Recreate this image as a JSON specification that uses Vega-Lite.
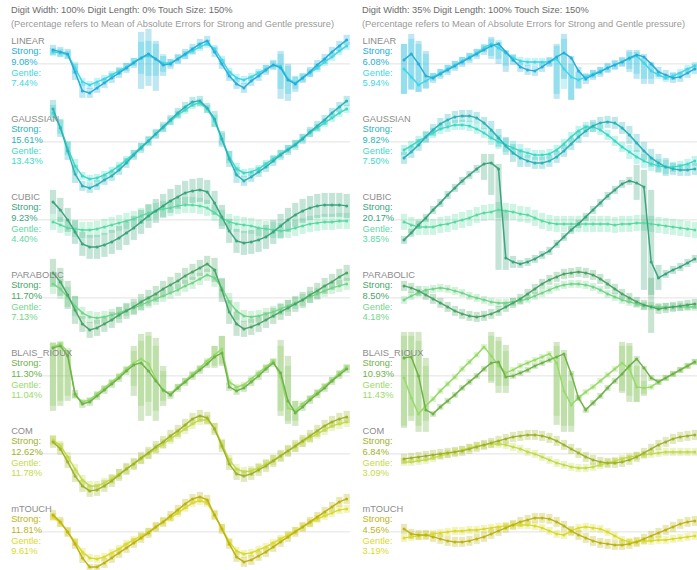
{
"$schema":"https://vega.github.io/schema/vega-lite/v6.json",
"padding":{"top":6,"left":0,"right":0,"bottom":0},
"background":"#ffffff",
"spacing":0,
"config":{"view":{"stroke":null},"font":"Liberation Sans"},
"datasets":{
"L":[
{"m":"LINEAR","i":0,"S":14,"s1":9,"s2":19,"G":12,"g1":8,"g2":16,"sp":"9.08%","gp":"7.44%"},
{"m":"LINEAR","i":1,"S":12,"s1":7,"s2":17,"G":11,"g1":7,"g2":15},
{"m":"LINEAR","i":2,"S":10,"s1":5,"s2":15,"G":9,"g1":5,"g2":13},
{"m":"LINEAR","i":3,"S":-8,"s1":-16,"s2":0,"G":-4,"g1":-10,"g2":2},
{"m":"LINEAR","i":4,"S":-27,"s1":-34,"s2":-20,"G":-18,"g1":-22,"g2":-14},
{"m":"LINEAR","i":5,"S":-29,"s1":-34,"s2":-24,"G":-21,"g1":-25,"g2":-17},
{"m":"LINEAR","i":6,"S":-24,"s1":-29,"s2":-19,"G":-18,"g1":-22,"g2":-14},
{"m":"LINEAR","i":7,"S":-19,"s1":-24,"s2":-14,"G":-15,"g1":-19,"g2":-11},
{"m":"LINEAR","i":8,"S":-14,"s1":-19,"s2":-9,"G":-11,"g1":-15,"g2":-7},
{"m":"LINEAR","i":9,"S":-9,"s1":-14,"s2":-4,"G":-7,"g1":-11,"g2":-3},
{"m":"LINEAR","i":10,"S":-4,"s1":-9,"s2":1,"G":-3,"g1":-7,"g2":1},
{"m":"LINEAR","i":11,"S":1,"s1":-4,"s2":6,"G":2,"g1":-2,"g2":6},
{"m":"LINEAR","i":12,"S":6,"s1":-25,"s2":32,"G":6,"g1":-10,"g2":22},
{"m":"LINEAR","i":13,"S":10,"s1":-22,"s2":35,"G":8,"g1":-12,"g2":23},
{"m":"LINEAR","i":14,"S":5,"s1":-27,"s2":23,"G":5,"g1":-12,"g2":20},
{"m":"LINEAR","i":15,"S":-1,"s1":-12,"s2":8,"G":1,"g1":-8,"g2":10},
{"m":"LINEAR","i":16,"S":0,"s1":-5,"s2":5,"G":1,"g1":-3,"g2":5},
{"m":"LINEAR","i":17,"S":5,"s1":0,"s2":10,"G":5,"g1":1,"g2":9},
{"m":"LINEAR","i":18,"S":10,"s1":5,"s2":15,"G":9,"g1":5,"g2":13},
{"m":"LINEAR","i":19,"S":15,"s1":10,"s2":20,"G":13,"g1":9,"g2":17},
{"m":"LINEAR","i":20,"S":20,"s1":15,"s2":25,"G":17,"g1":13,"g2":21},
{"m":"LINEAR","i":21,"S":23,"s1":18,"s2":28,"G":20,"g1":16,"g2":24},
{"m":"LINEAR","i":22,"S":12,"s1":7,"s2":17,"G":15,"g1":11,"g2":19},
{"m":"LINEAR","i":23,"S":0,"s1":-5,"s2":5,"G":4,"g1":0,"g2":8},
{"m":"LINEAR","i":24,"S":-12,"s1":-17,"s2":-7,"G":-8,"g1":-12,"g2":-4},
{"m":"LINEAR","i":25,"S":-20,"s1":-25,"s2":-15,"G":-14,"g1":-18,"g2":-10},
{"m":"LINEAR","i":26,"S":-24,"s1":-29,"s2":-19,"G":-16,"g1":-20,"g2":-12},
{"m":"LINEAR","i":27,"S":-17,"s1":-22,"s2":-12,"G":-13,"g1":-17,"g2":-9},
{"m":"LINEAR","i":28,"S":-12,"s1":-17,"s2":-7,"G":-9,"g1":-13,"g2":-5},
{"m":"LINEAR","i":29,"S":-6,"s1":-11,"s2":-1,"G":-5,"g1":-9,"g2":-1},
{"m":"LINEAR","i":30,"S":-1,"s1":-6,"s2":4,"G":-1,"g1":-5,"g2":3},
{"m":"LINEAR","i":31,"S":-4,"s1":-35,"s2":13,"G":-2,"g1":-25,"g2":10},
{"m":"LINEAR","i":32,"S":-16,"s1":-37,"s2":0,"G":-15,"g1":-30,"g2":-2},
{"m":"LINEAR","i":33,"S":-20,"s1":-28,"s2":-12,"G":-19,"g1":-25,"g2":-13},
{"m":"LINEAR","i":34,"S":-14,"s1":-19,"s2":-9,"G":-14,"g1":-18,"g2":-10},
{"m":"LINEAR","i":35,"S":-8,"s1":-13,"s2":-3,"G":-9,"g1":-13,"g2":-5},
{"m":"LINEAR","i":36,"S":-1,"s1":-6,"s2":4,"G":-4,"g1":-8,"g2":0},
{"m":"LINEAR","i":37,"S":5,"s1":0,"s2":10,"G":2,"g1":-2,"g2":6},
{"m":"LINEAR","i":38,"S":12,"s1":7,"s2":17,"G":7,"g1":3,"g2":11},
{"m":"LINEAR","i":39,"S":18,"s1":13,"s2":23,"G":13,"g1":9,"g2":17},
{"m":"LINEAR","i":40,"S":24,"s1":19,"s2":29,"G":18,"g1":14,"g2":22},
{"m":"GAUSSIAN","i":0,"S":33,"s1":24,"s2":42,"G":29,"g1":21,"g2":37,"sp":"15.61%","gp":"13.43%"},
{"m":"GAUSSIAN","i":1,"S":14,"s1":5,"s2":23,"G":15,"g1":8,"g2":22},
{"m":"GAUSSIAN","i":2,"S":-9,"s1":-18,"s2":0,"G":-6,"g1":-13,"g2":1},
{"m":"GAUSSIAN","i":3,"S":-32,"s1":-41,"s2":-23,"G":-24,"g1":-31,"g2":-17},
{"m":"GAUSSIAN","i":4,"S":-44,"s1":-49,"s2":-39,"G":-34,"g1":-38,"g2":-30},
{"m":"GAUSSIAN","i":5,"S":-46,"s1":-51,"s2":-41,"G":-37,"g1":-41,"g2":-33},
{"m":"GAUSSIAN","i":6,"S":-43,"s1":-48,"s2":-38,"G":-36,"g1":-40,"g2":-32},
{"m":"GAUSSIAN","i":7,"S":-38,"s1":-43,"s2":-33,"G":-33,"g1":-37,"g2":-29},
{"m":"GAUSSIAN","i":8,"S":-34,"s1":-39,"s2":-29,"G":-29,"g1":-33,"g2":-25},
{"m":"GAUSSIAN","i":9,"S":-28,"s1":-33,"s2":-23,"G":-24,"g1":-28,"g2":-20},
{"m":"GAUSSIAN","i":10,"S":-21,"s1":-26,"s2":-16,"G":-18,"g1":-22,"g2":-14},
{"m":"GAUSSIAN","i":11,"S":-13,"s1":-18,"s2":-8,"G":-12,"g1":-16,"g2":-8},
{"m":"GAUSSIAN","i":12,"S":-6,"s1":-11,"s2":-1,"G":-5,"g1":-9,"g2":-1},
{"m":"GAUSSIAN","i":13,"S":1,"s1":-4,"s2":6,"G":1,"g1":-3,"g2":5},
{"m":"GAUSSIAN","i":14,"S":8,"s1":3,"s2":13,"G":8,"g1":4,"g2":12},
{"m":"GAUSSIAN","i":15,"S":15,"s1":10,"s2":20,"G":14,"g1":10,"g2":18},
{"m":"GAUSSIAN","i":16,"S":22,"s1":17,"s2":27,"G":21,"g1":17,"g2":25},
{"m":"GAUSSIAN","i":17,"S":29,"s1":24,"s2":34,"G":27,"g1":23,"g2":31},
{"m":"GAUSSIAN","i":18,"S":35,"s1":30,"s2":40,"G":32,"g1":28,"g2":36},
{"m":"GAUSSIAN","i":19,"S":40,"s1":35,"s2":45,"G":37,"g1":33,"g2":41},
{"m":"GAUSSIAN","i":20,"S":41,"s1":36,"s2":46,"G":39,"g1":35,"g2":43},
{"m":"GAUSSIAN","i":21,"S":34,"s1":29,"s2":39,"G":33,"g1":29,"g2":37},
{"m":"GAUSSIAN","i":22,"S":23,"s1":15,"s2":31,"G":21,"g1":15,"g2":27},
{"m":"GAUSSIAN","i":23,"S":3,"s1":-5,"s2":11,"G":3,"g1":-3,"g2":9},
{"m":"GAUSSIAN","i":24,"S":-17,"s1":-25,"s2":-9,"G":-15,"g1":-21,"g2":-9},
{"m":"GAUSSIAN","i":25,"S":-33,"s1":-41,"s2":-25,"G":-27,"g1":-33,"g2":-21},
{"m":"GAUSSIAN","i":26,"S":-39,"s1":-44,"s2":-34,"G":-31,"g1":-35,"g2":-27},
{"m":"GAUSSIAN","i":27,"S":-35,"s1":-40,"s2":-30,"G":-30,"g1":-34,"g2":-26},
{"m":"GAUSSIAN","i":28,"S":-30,"s1":-35,"s2":-25,"G":-27,"g1":-31,"g2":-23},
{"m":"GAUSSIAN","i":29,"S":-25,"s1":-30,"s2":-20,"G":-22,"g1":-26,"g2":-18},
{"m":"GAUSSIAN","i":30,"S":-19,"s1":-24,"s2":-14,"G":-17,"g1":-21,"g2":-13},
{"m":"GAUSSIAN","i":31,"S":-13,"s1":-18,"s2":-8,"G":-12,"g1":-16,"g2":-8},
{"m":"GAUSSIAN","i":32,"S":-8,"s1":-13,"s2":-3,"G":-7,"g1":-11,"g2":-3},
{"m":"GAUSSIAN","i":33,"S":-3,"s1":-8,"s2":2,"G":-2,"g1":-6,"g2":2},
{"m":"GAUSSIAN","i":34,"S":3,"s1":-2,"s2":8,"G":4,"g1":0,"g2":8},
{"m":"GAUSSIAN","i":35,"S":10,"s1":5,"s2":15,"G":9,"g1":5,"g2":13},
{"m":"GAUSSIAN","i":36,"S":16,"s1":11,"s2":21,"G":14,"g1":10,"g2":18},
{"m":"GAUSSIAN","i":37,"S":22,"s1":17,"s2":27,"G":19,"g1":15,"g2":23},
{"m":"GAUSSIAN","i":38,"S":29,"s1":24,"s2":34,"G":24,"g1":20,"g2":28},
{"m":"GAUSSIAN","i":39,"S":35,"s1":30,"s2":40,"G":29,"g1":25,"g2":33},
{"m":"GAUSSIAN","i":40,"S":41,"s1":36,"s2":46,"G":33,"g1":29,"g2":37},
{"m":"CUBIC","i":0,"S":18,"s1":6,"s2":30,"G":-2,"g1":-10,"g2":6,"sp":"9.23%","gp":"4.40%"},
{"m":"CUBIC","i":1,"S":10,"s1":-2,"s2":22,"G":-5,"g1":-13,"g2":3},
{"m":"CUBIC","i":2,"S":0,"s1":-12,"s2":12,"G":-8,"g1":-16,"g2":0},
{"m":"CUBIC","i":3,"S":-12,"s1":-24,"s2":0,"G":-9,"g1":-17,"g2":-1},
{"m":"CUBIC","i":4,"S":-24,"s1":-36,"s2":-12,"G":-10,"g1":-18,"g2":-2},
{"m":"CUBIC","i":5,"S":-27,"s1":-39,"s2":-15,"G":-10,"g1":-18,"g2":-2},
{"m":"CUBIC","i":6,"S":-27,"s1":-39,"s2":-15,"G":-9,"g1":-17,"g2":-1},
{"m":"CUBIC","i":7,"S":-25,"s1":-37,"s2":-13,"G":-7,"g1":-15,"g2":1},
{"m":"CUBIC","i":8,"S":-22,"s1":-34,"s2":-10,"G":-5,"g1":-13,"g2":3},
{"m":"CUBIC","i":9,"S":-18,"s1":-30,"s2":-6,"G":-3,"g1":-11,"g2":5},
{"m":"CUBIC","i":10,"S":-13,"s1":-25,"s2":-1,"G":-1,"g1":-9,"g2":7},
{"m":"CUBIC","i":11,"S":-8,"s1":-20,"s2":4,"G":1,"g1":-7,"g2":9},
{"m":"CUBIC","i":12,"S":-2,"s1":-14,"s2":10,"G":4,"g1":-4,"g2":12},
{"m":"CUBIC","i":13,"S":4,"s1":-8,"s2":16,"G":7,"g1":-1,"g2":15},
{"m":"CUBIC","i":14,"S":9,"s1":-3,"s2":21,"G":9,"g1":1,"g2":17},
{"m":"CUBIC","i":15,"S":14,"s1":2,"s2":26,"G":11,"g1":3,"g2":19},
{"m":"CUBIC","i":16,"S":19,"s1":7,"s2":31,"G":12,"g1":4,"g2":20},
{"m":"CUBIC","i":17,"S":23,"s1":11,"s2":35,"G":14,"g1":6,"g2":22},
{"m":"CUBIC","i":18,"S":27,"s1":15,"s2":39,"G":15,"g1":7,"g2":23},
{"m":"CUBIC","i":19,"S":29,"s1":17,"s2":41,"G":15,"g1":7,"g2":23},
{"m":"CUBIC","i":20,"S":30,"s1":18,"s2":42,"G":14,"g1":6,"g2":22},
{"m":"CUBIC","i":21,"S":28,"s1":16,"s2":40,"G":12,"g1":4,"g2":20},
{"m":"CUBIC","i":22,"S":17,"s1":5,"s2":29,"G":7,"g1":-1,"g2":15},
{"m":"CUBIC","i":23,"S":3,"s1":-9,"s2":15,"G":2,"g1":-6,"g2":10},
{"m":"CUBIC","i":24,"S":-11,"s1":-23,"s2":1,"G":-2,"g1":-10,"g2":6},
{"m":"CUBIC","i":25,"S":-21,"s1":-33,"s2":-9,"G":-4,"g1":-12,"g2":4},
{"m":"CUBIC","i":26,"S":-23,"s1":-35,"s2":-11,"G":-5,"g1":-13,"g2":3},
{"m":"CUBIC","i":27,"S":-22,"s1":-34,"s2":-10,"G":-6,"g1":-14,"g2":2},
{"m":"CUBIC","i":28,"S":-20,"s1":-32,"s2":-8,"G":-8,"g1":-16,"g2":0},
{"m":"CUBIC","i":29,"S":-17,"s1":-29,"s2":-5,"G":-9,"g1":-17,"g2":-1},
{"m":"CUBIC","i":30,"S":-12,"s1":-24,"s2":0,"G":-10,"g1":-18,"g2":-2},
{"m":"CUBIC","i":31,"S":-6,"s1":-18,"s2":6,"G":-11,"g1":-19,"g2":-3},
{"m":"CUBIC","i":32,"S":0,"s1":-12,"s2":12,"G":-10,"g1":-18,"g2":-2},
{"m":"CUBIC","i":33,"S":5,"s1":-7,"s2":17,"G":-8,"g1":-16,"g2":0},
{"m":"CUBIC","i":34,"S":9,"s1":-3,"s2":21,"G":-6,"g1":-14,"g2":2},
{"m":"CUBIC","i":35,"S":12,"s1":0,"s2":24,"G":-4,"g1":-12,"g2":4},
{"m":"CUBIC","i":36,"S":14,"s1":2,"s2":26,"G":-3,"g1":-11,"g2":5},
{"m":"CUBIC","i":37,"S":15,"s1":3,"s2":27,"G":-2,"g1":-10,"g2":6},
{"m":"CUBIC","i":38,"S":15,"s1":3,"s2":27,"G":-2,"g1":-10,"g2":6},
{"m":"CUBIC","i":39,"S":15,"s1":3,"s2":27,"G":-1,"g1":-9,"g2":7},
{"m":"CUBIC","i":40,"S":14,"s1":2,"s2":26,"G":-1,"g1":-9,"g2":7},
{"m":"PARABOLIC","i":0,"S":25,"s1":11,"s2":39,"G":14,"g1":4,"g2":24,"sp":"11.70%","gp":"7.13%"},
{"m":"PARABOLIC","i":1,"S":16,"s1":2,"s2":30,"G":9,"g1":-1,"g2":19},
{"m":"PARABOLIC","i":2,"S":3,"s1":-11,"s2":17,"G":1,"g1":-9,"g2":11},
{"m":"PARABOLIC","i":3,"S":-12,"s1":-26,"s2":2,"G":-8,"g1":-18,"g2":2},
{"m":"PARABOLIC","i":4,"S":-26,"s1":-34,"s2":-18,"G":-15,"g1":-21,"g2":-9},
{"m":"PARABOLIC","i":5,"S":-32,"s1":-40,"s2":-24,"G":-19,"g1":-25,"g2":-13},
{"m":"PARABOLIC","i":6,"S":-30,"s1":-38,"s2":-22,"G":-20,"g1":-26,"g2":-14},
{"m":"PARABOLIC","i":7,"S":-26,"s1":-34,"s2":-18,"G":-19,"g1":-25,"g2":-13},
{"m":"PARABOLIC","i":8,"S":-22,"s1":-30,"s2":-14,"G":-17,"g1":-23,"g2":-11},
{"m":"PARABOLIC","i":9,"S":-17,"s1":-25,"s2":-9,"G":-15,"g1":-21,"g2":-9},
{"m":"PARABOLIC","i":10,"S":-13,"s1":-21,"s2":-5,"G":-12,"g1":-18,"g2":-6},
{"m":"PARABOLIC","i":11,"S":-9,"s1":-17,"s2":-1,"G":-10,"g1":-16,"g2":-4},
{"m":"PARABOLIC","i":12,"S":-4,"s1":-12,"s2":4,"G":-7,"g1":-13,"g2":-1},
{"m":"PARABOLIC","i":13,"S":0,"s1":-8,"s2":8,"G":-4,"g1":-10,"g2":2},
{"m":"PARABOLIC","i":14,"S":4,"s1":-4,"s2":12,"G":-1,"g1":-7,"g2":5},
{"m":"PARABOLIC","i":15,"S":9,"s1":1,"s2":17,"G":2,"g1":-4,"g2":8},
{"m":"PARABOLIC","i":16,"S":13,"s1":5,"s2":21,"G":5,"g1":-1,"g2":11},
{"m":"PARABOLIC","i":17,"S":17,"s1":9,"s2":25,"G":8,"g1":2,"g2":14},
{"m":"PARABOLIC","i":18,"S":22,"s1":14,"s2":30,"G":12,"g1":6,"g2":18},
{"m":"PARABOLIC","i":19,"S":26,"s1":18,"s2":34,"G":15,"g1":9,"g2":21},
{"m":"PARABOLIC","i":20,"S":30,"s1":22,"s2":38,"G":19,"g1":13,"g2":25},
{"m":"PARABOLIC","i":21,"S":34,"s1":26,"s2":42,"G":23,"g1":17,"g2":29},
{"m":"PARABOLIC","i":22,"S":28,"s1":16,"s2":40,"G":20,"g1":11,"g2":29},
{"m":"PARABOLIC","i":23,"S":8,"s1":-4,"s2":20,"G":10,"g1":1,"g2":19},
{"m":"PARABOLIC","i":24,"S":-14,"s1":-26,"s2":-2,"G":-4,"g1":-13,"g2":5},
{"m":"PARABOLIC","i":25,"S":-26,"s1":-38,"s2":-14,"G":-13,"g1":-22,"g2":-4},
{"m":"PARABOLIC","i":26,"S":-31,"s1":-39,"s2":-23,"G":-18,"g1":-24,"g2":-12},
{"m":"PARABOLIC","i":27,"S":-29,"s1":-37,"s2":-21,"G":-19,"g1":-25,"g2":-13},
{"m":"PARABOLIC","i":28,"S":-26,"s1":-34,"s2":-18,"G":-18,"g1":-24,"g2":-12},
{"m":"PARABOLIC","i":29,"S":-22,"s1":-30,"s2":-14,"G":-16,"g1":-22,"g2":-10},
{"m":"PARABOLIC","i":30,"S":-18,"s1":-26,"s2":-10,"G":-14,"g1":-20,"g2":-8},
{"m":"PARABOLIC","i":31,"S":-14,"s1":-22,"s2":-6,"G":-11,"g1":-17,"g2":-5},
{"m":"PARABOLIC","i":32,"S":-10,"s1":-18,"s2":-2,"G":-8,"g1":-14,"g2":-2},
{"m":"PARABOLIC","i":33,"S":-6,"s1":-14,"s2":2,"G":-5,"g1":-11,"g2":1},
{"m":"PARABOLIC","i":34,"S":-2,"s1":-10,"s2":6,"G":-2,"g1":-8,"g2":4},
{"m":"PARABOLIC","i":35,"S":3,"s1":-5,"s2":11,"G":1,"g1":-5,"g2":7},
{"m":"PARABOLIC","i":36,"S":7,"s1":-1,"s2":15,"G":4,"g1":-2,"g2":10},
{"m":"PARABOLIC","i":37,"S":12,"s1":4,"s2":20,"G":7,"g1":1,"g2":13},
{"m":"PARABOLIC","i":38,"S":16,"s1":8,"s2":24,"G":10,"g1":4,"g2":16},
{"m":"PARABOLIC","i":39,"S":21,"s1":13,"s2":29,"G":12,"g1":6,"g2":18},
{"m":"PARABOLIC","i":40,"S":25,"s1":17,"s2":33,"G":14,"g1":8,"g2":20},
{"m":"BLAIS_RIOUX","i":0,"S":28,"s1":-35,"s2":33,"G":29,"g1":-30,"g2":34,"sp":"11.30%","gp":"11.04%"},
{"m":"BLAIS_RIOUX","i":1,"S":30,"s1":-30,"s2":34,"G":32,"g1":-25,"g2":35},
{"m":"BLAIS_RIOUX","i":2,"S":20,"s1":-25,"s2":26,"G":24,"g1":-20,"g2":28},
{"m":"BLAIS_RIOUX","i":3,"S":-18,"s1":-22,"s2":-14,"G":-20,"g1":-23,"g2":-17},
{"m":"BLAIS_RIOUX","i":4,"S":-28,"s1":-32,"s2":-24,"G":-26,"g1":-29,"g2":-23},
{"m":"BLAIS_RIOUX","i":5,"S":-26,"s1":-30,"s2":-22,"G":-24,"g1":-27,"g2":-21},
{"m":"BLAIS_RIOUX","i":6,"S":-20,"s1":-24,"s2":-16,"G":-18,"g1":-21,"g2":-15},
{"m":"BLAIS_RIOUX","i":7,"S":-14,"s1":-18,"s2":-10,"G":-12,"g1":-15,"g2":-9},
{"m":"BLAIS_RIOUX","i":8,"S":-8,"s1":-12,"s2":-4,"G":-6,"g1":-9,"g2":-3},
{"m":"BLAIS_RIOUX","i":9,"S":-2,"s1":-6,"s2":2,"G":0,"g1":-3,"g2":3},
{"m":"BLAIS_RIOUX","i":10,"S":5,"s1":1,"s2":9,"G":7,"g1":4,"g2":10},
{"m":"BLAIS_RIOUX","i":11,"S":11,"s1":-20,"s2":30,"G":13,"g1":-10,"g2":25},
{"m":"BLAIS_RIOUX","i":12,"S":13,"s1":-45,"s2":42,"G":17,"g1":-30,"g2":35},
{"m":"BLAIS_RIOUX","i":13,"S":5,"s1":-40,"s2":44,"G":12,"g1":-26,"g2":40},
{"m":"BLAIS_RIOUX","i":14,"S":-5,"s1":-45,"s2":38,"G":-3,"g1":-35,"g2":30},
{"m":"BLAIS_RIOUX","i":15,"S":-14,"s1":-30,"s2":10,"G":-15,"g1":-25,"g2":5},
{"m":"BLAIS_RIOUX","i":16,"S":-19,"s1":-23,"s2":-15,"G":-18,"g1":-21,"g2":-15},
{"m":"BLAIS_RIOUX","i":17,"S":-12,"s1":-16,"s2":-8,"G":-11,"g1":-14,"g2":-8},
{"m":"BLAIS_RIOUX","i":18,"S":-6,"s1":-10,"s2":-2,"G":-5,"g1":-8,"g2":-2},
{"m":"BLAIS_RIOUX","i":19,"S":0,"s1":-4,"s2":4,"G":2,"g1":-1,"g2":5},
{"m":"BLAIS_RIOUX","i":20,"S":6,"s1":2,"s2":10,"G":8,"g1":5,"g2":11},
{"m":"BLAIS_RIOUX","i":21,"S":12,"s1":8,"s2":16,"G":15,"g1":12,"g2":18},
{"m":"BLAIS_RIOUX","i":22,"S":19,"s1":8,"s2":30,"G":21,"g1":10,"g2":30},
{"m":"BLAIS_RIOUX","i":23,"S":23,"s1":10,"s2":40,"G":27,"g1":12,"g2":40},
{"m":"BLAIS_RIOUX","i":24,"S":-11,"s1":-15,"s2":-7,"G":-6,"g1":-9,"g2":-3},
{"m":"BLAIS_RIOUX","i":25,"S":-15,"s1":-19,"s2":-11,"G":-11,"g1":-14,"g2":-8},
{"m":"BLAIS_RIOUX","i":26,"S":-12,"s1":-16,"s2":-8,"G":-9,"g1":-12,"g2":-6},
{"m":"BLAIS_RIOUX","i":27,"S":-6,"s1":-10,"s2":-2,"G":-3,"g1":-6,"g2":0},
{"m":"BLAIS_RIOUX","i":28,"S":0,"s1":-4,"s2":4,"G":3,"g1":0,"g2":6},
{"m":"BLAIS_RIOUX","i":29,"S":7,"s1":3,"s2":11,"G":9,"g1":6,"g2":12},
{"m":"BLAIS_RIOUX","i":30,"S":13,"s1":9,"s2":17,"G":15,"g1":12,"g2":18},
{"m":"BLAIS_RIOUX","i":31,"S":3,"s1":-40,"s2":36,"G":-1,"g1":-35,"g2":30},
{"m":"BLAIS_RIOUX","i":32,"S":-25,"s1":-48,"s2":20,"G":-32,"g1":-45,"g2":10},
{"m":"BLAIS_RIOUX","i":33,"S":-37,"s1":-50,"s2":-25,"G":-35,"g1":-45,"g2":-25},
{"m":"BLAIS_RIOUX","i":34,"S":-31,"s1":-35,"s2":-27,"G":-28,"g1":-31,"g2":-25},
{"m":"BLAIS_RIOUX","i":35,"S":-24,"s1":-28,"s2":-20,"G":-22,"g1":-25,"g2":-19},
{"m":"BLAIS_RIOUX","i":36,"S":-18,"s1":-22,"s2":-14,"G":-16,"g1":-19,"g2":-13},
{"m":"BLAIS_RIOUX","i":37,"S":-12,"s1":-16,"s2":-8,"G":-10,"g1":-13,"g2":-7},
{"m":"BLAIS_RIOUX","i":38,"S":-5,"s1":-9,"s2":-1,"G":-4,"g1":-7,"g2":-1},
{"m":"BLAIS_RIOUX","i":39,"S":1,"s1":-3,"s2":5,"G":3,"g1":0,"g2":6},
{"m":"BLAIS_RIOUX","i":40,"S":7,"s1":3,"s2":11,"G":9,"g1":6,"g2":12},
{"m":"COM","i":0,"S":12,"s1":6,"s2":18,"G":14,"g1":9,"g2":19,"sp":"12.62%","gp":"11.78%"},
{"m":"COM","i":1,"S":5,"s1":-1,"s2":11,"G":8,"g1":3,"g2":13},
{"m":"COM","i":2,"S":-8,"s1":-14,"s2":-2,"G":-3,"g1":-8,"g2":2},
{"m":"COM","i":3,"S":-22,"s1":-28,"s2":-16,"G":-15,"g1":-20,"g2":-10},
{"m":"COM","i":4,"S":-32,"s1":-38,"s2":-26,"G":-26,"g1":-31,"g2":-21},
{"m":"COM","i":5,"S":-37,"s1":-43,"s2":-31,"G":-32,"g1":-37,"g2":-27},
{"m":"COM","i":6,"S":-36,"s1":-42,"s2":-30,"G":-32,"g1":-37,"g2":-27},
{"m":"COM","i":7,"S":-32,"s1":-38,"s2":-26,"G":-29,"g1":-34,"g2":-24},
{"m":"COM","i":8,"S":-27,"s1":-33,"s2":-21,"G":-25,"g1":-30,"g2":-20},
{"m":"COM","i":9,"S":-21,"s1":-27,"s2":-15,"G":-20,"g1":-25,"g2":-15},
{"m":"COM","i":10,"S":-15,"s1":-21,"s2":-9,"G":-15,"g1":-20,"g2":-10},
{"m":"COM","i":11,"S":-10,"s1":-16,"s2":-4,"G":-10,"g1":-15,"g2":-5},
{"m":"COM","i":12,"S":-4,"s1":-10,"s2":2,"G":-5,"g1":-10,"g2":0},
{"m":"COM","i":13,"S":1,"s1":-5,"s2":7,"G":0,"g1":-5,"g2":5},
{"m":"COM","i":14,"S":7,"s1":1,"s2":13,"G":5,"g1":0,"g2":10},
{"m":"COM","i":15,"S":12,"s1":6,"s2":18,"G":10,"g1":5,"g2":15},
{"m":"COM","i":16,"S":18,"s1":12,"s2":24,"G":15,"g1":10,"g2":20},
{"m":"COM","i":17,"S":23,"s1":17,"s2":29,"G":20,"g1":15,"g2":25},
{"m":"COM","i":18,"S":29,"s1":23,"s2":35,"G":25,"g1":20,"g2":30},
{"m":"COM","i":19,"S":35,"s1":29,"s2":41,"G":30,"g1":25,"g2":35},
{"m":"COM","i":20,"S":38,"s1":32,"s2":44,"G":34,"g1":29,"g2":39},
{"m":"COM","i":21,"S":36,"s1":30,"s2":42,"G":34,"g1":29,"g2":39},
{"m":"COM","i":22,"S":25,"s1":19,"s2":31,"G":26,"g1":21,"g2":31},
{"m":"COM","i":23,"S":8,"s1":2,"s2":14,"G":10,"g1":5,"g2":15},
{"m":"COM","i":24,"S":-10,"s1":-16,"s2":-4,"G":-6,"g1":-11,"g2":-1},
{"m":"COM","i":25,"S":-20,"s1":-26,"s2":-14,"G":-15,"g1":-20,"g2":-10},
{"m":"COM","i":26,"S":-22,"s1":-28,"s2":-16,"G":-18,"g1":-23,"g2":-13},
{"m":"COM","i":27,"S":-20,"s1":-26,"s2":-14,"G":-17,"g1":-22,"g2":-12},
{"m":"COM","i":28,"S":-16,"s1":-22,"s2":-10,"G":-14,"g1":-19,"g2":-9},
{"m":"COM","i":29,"S":-12,"s1":-18,"s2":-6,"G":-10,"g1":-15,"g2":-5},
{"m":"COM","i":30,"S":-7,"s1":-13,"s2":-1,"G":-6,"g1":-11,"g2":-1},
{"m":"COM","i":31,"S":-2,"s1":-8,"s2":4,"G":-2,"g1":-7,"g2":3},
{"m":"COM","i":32,"S":3,"s1":-3,"s2":9,"G":3,"g1":-2,"g2":8},
{"m":"COM","i":33,"S":8,"s1":2,"s2":14,"G":7,"g1":2,"g2":12},
{"m":"COM","i":34,"S":13,"s1":7,"s2":19,"G":12,"g1":7,"g2":17},
{"m":"COM","i":35,"S":18,"s1":12,"s2":24,"G":16,"g1":11,"g2":21},
{"m":"COM","i":36,"S":23,"s1":17,"s2":29,"G":20,"g1":15,"g2":25},
{"m":"COM","i":37,"S":28,"s1":22,"s2":34,"G":24,"g1":19,"g2":29},
{"m":"COM","i":38,"S":32,"s1":26,"s2":38,"G":28,"g1":23,"g2":33},
{"m":"COM","i":39,"S":35,"s1":29,"s2":41,"G":30,"g1":25,"g2":35},
{"m":"COM","i":40,"S":37,"s1":31,"s2":43,"G":32,"g1":27,"g2":37},
{"m":"mTOUCH","i":0,"S":17,"s1":12,"s2":22,"G":15,"g1":11,"g2":19,"sp":"11.81%","gp":"9.61%"},
{"m":"mTOUCH","i":1,"S":10,"s1":5,"s2":15,"G":9,"g1":5,"g2":13},
{"m":"mTOUCH","i":2,"S":0,"s1":-5,"s2":5,"G":0,"g1":-4,"g2":4},
{"m":"mTOUCH","i":3,"S":-12,"s1":-17,"s2":-7,"G":-10,"g1":-14,"g2":-6},
{"m":"mTOUCH","i":4,"S":-26,"s1":-31,"s2":-21,"G":-20,"g1":-24,"g2":-16},
{"m":"mTOUCH","i":5,"S":-35,"s1":-38,"s2":-32,"G":-26,"g1":-30,"g2":-22},
{"m":"mTOUCH","i":6,"S":-35,"s1":-38,"s2":-32,"G":-27,"g1":-31,"g2":-23},
{"m":"mTOUCH","i":7,"S":-31,"s1":-36,"s2":-26,"G":-25,"g1":-29,"g2":-21},
{"m":"mTOUCH","i":8,"S":-26,"s1":-31,"s2":-21,"G":-21,"g1":-25,"g2":-17},
{"m":"mTOUCH","i":9,"S":-21,"s1":-26,"s2":-16,"G":-17,"g1":-21,"g2":-13},
{"m":"mTOUCH","i":10,"S":-16,"s1":-21,"s2":-11,"G":-12,"g1":-16,"g2":-8},
{"m":"mTOUCH","i":11,"S":-11,"s1":-16,"s2":-6,"G":-8,"g1":-12,"g2":-4},
{"m":"mTOUCH","i":12,"S":-6,"s1":-11,"s2":-1,"G":-4,"g1":-8,"g2":0},
{"m":"mTOUCH","i":13,"S":-1,"s1":-6,"s2":4,"G":0,"g1":-4,"g2":4},
{"m":"mTOUCH","i":14,"S":5,"s1":0,"s2":10,"G":5,"g1":1,"g2":9},
{"m":"mTOUCH","i":15,"S":10,"s1":5,"s2":15,"G":10,"g1":6,"g2":14},
{"m":"mTOUCH","i":16,"S":16,"s1":11,"s2":21,"G":14,"g1":10,"g2":18},
{"m":"mTOUCH","i":17,"S":22,"s1":17,"s2":27,"G":19,"g1":15,"g2":23},
{"m":"mTOUCH","i":18,"S":28,"s1":23,"s2":33,"G":24,"g1":20,"g2":28},
{"m":"mTOUCH","i":19,"S":33,"s1":28,"s2":38,"G":29,"g1":25,"g2":33},
{"m":"mTOUCH","i":20,"S":35,"s1":30,"s2":40,"G":31,"g1":27,"g2":35},
{"m":"mTOUCH","i":21,"S":32,"s1":27,"s2":37,"G":29,"g1":25,"g2":33},
{"m":"mTOUCH","i":22,"S":17,"s1":12,"s2":22,"G":17,"g1":13,"g2":21},
{"m":"mTOUCH","i":23,"S":3,"s1":-2,"s2":8,"G":4,"g1":0,"g2":8},
{"m":"mTOUCH","i":24,"S":-12,"s1":-17,"s2":-7,"G":-10,"g1":-14,"g2":-6},
{"m":"mTOUCH","i":25,"S":-25,"s1":-30,"s2":-20,"G":-19,"g1":-23,"g2":-15},
{"m":"mTOUCH","i":26,"S":-30,"s1":-35,"s2":-25,"G":-22,"g1":-26,"g2":-18},
{"m":"mTOUCH","i":27,"S":-28,"s1":-33,"s2":-23,"G":-21,"g1":-25,"g2":-17},
{"m":"mTOUCH","i":28,"S":-24,"s1":-29,"s2":-19,"G":-18,"g1":-22,"g2":-14},
{"m":"mTOUCH","i":29,"S":-20,"s1":-25,"s2":-15,"G":-15,"g1":-19,"g2":-11},
{"m":"mTOUCH","i":30,"S":-15,"s1":-20,"s2":-10,"G":-11,"g1":-15,"g2":-7},
{"m":"mTOUCH","i":31,"S":-10,"s1":-15,"s2":-5,"G":-7,"g1":-11,"g2":-3},
{"m":"mTOUCH","i":32,"S":-5,"s1":-10,"s2":0,"G":-3,"g1":-7,"g2":1},
{"m":"mTOUCH","i":33,"S":0,"s1":-5,"s2":5,"G":1,"g1":-3,"g2":5},
{"m":"mTOUCH","i":34,"S":5,"s1":0,"s2":10,"G":5,"g1":1,"g2":9},
{"m":"mTOUCH","i":35,"S":10,"s1":5,"s2":15,"G":9,"g1":5,"g2":13},
{"m":"mTOUCH","i":36,"S":15,"s1":10,"s2":20,"G":13,"g1":9,"g2":17},
{"m":"mTOUCH","i":37,"S":20,"s1":15,"s2":25,"G":16,"g1":12,"g2":20},
{"m":"mTOUCH","i":38,"S":25,"s1":20,"s2":30,"G":19,"g1":15,"g2":23},
{"m":"mTOUCH","i":39,"S":30,"s1":25,"s2":35,"G":22,"g1":18,"g2":26},
{"m":"mTOUCH","i":40,"S":33,"s1":28,"s2":38,"G":23,"g1":19,"g2":27}
],
"R":[
{"m":"LINEAR","i":0,"S":4,"s1":-30,"s2":20,"G":-5,"g1":-30,"g2":20,"sp":"6.08%","gp":"5.94%"},
{"m":"LINEAR","i":1,"S":10,"s1":-26,"s2":30,"G":-13,"g1":-25,"g2":25},
{"m":"LINEAR","i":2,"S":0,"s1":-28,"s2":23,"G":-21,"g1":-28,"g2":20},
{"m":"LINEAR","i":3,"S":-12,"s1":-25,"s2":13,"G":-17,"g1":-24,"g2":10},
{"m":"LINEAR","i":4,"S":-14,"s1":-19,"s2":-9,"G":-13,"g1":-17,"g2":-9},
{"m":"LINEAR","i":5,"S":-10,"s1":-15,"s2":-5,"G":-9,"g1":-13,"g2":-5},
{"m":"LINEAR","i":6,"S":-6,"s1":-11,"s2":-1,"G":-5,"g1":-9,"g2":-1},
{"m":"LINEAR","i":7,"S":-2,"s1":-7,"s2":3,"G":-1,"g1":-5,"g2":3},
{"m":"LINEAR","i":8,"S":2,"s1":-3,"s2":7,"G":3,"g1":-1,"g2":7},
{"m":"LINEAR","i":9,"S":6,"s1":1,"s2":11,"G":7,"g1":3,"g2":11},
{"m":"LINEAR","i":10,"S":10,"s1":5,"s2":15,"G":11,"g1":7,"g2":15},
{"m":"LINEAR","i":11,"S":14,"s1":9,"s2":19,"G":16,"g1":12,"g2":20},
{"m":"LINEAR","i":12,"S":18,"s1":5,"s2":27,"G":20,"g1":8,"g2":25},
{"m":"LINEAR","i":13,"S":20,"s1":0,"s2":22,"G":16,"g1":5,"g2":24},
{"m":"LINEAR","i":14,"S":12,"s1":-8,"s2":13,"G":11,"g1":-2,"g2":14},
{"m":"LINEAR","i":15,"S":4,"s1":-1,"s2":9,"G":6,"g1":2,"g2":10},
{"m":"LINEAR","i":16,"S":-3,"s1":-8,"s2":2,"G":3,"g1":-1,"g2":7},
{"m":"LINEAR","i":17,"S":-6,"s1":-11,"s2":-1,"G":2,"g1":-2,"g2":6},
{"m":"LINEAR","i":18,"S":-7,"s1":-12,"s2":-2,"G":2,"g1":-2,"g2":6},
{"m":"LINEAR","i":19,"S":-3,"s1":-8,"s2":2,"G":2,"g1":-2,"g2":6},
{"m":"LINEAR","i":20,"S":2,"s1":-3,"s2":7,"G":2,"g1":-2,"g2":6},
{"m":"LINEAR","i":21,"S":7,"s1":-35,"s2":20,"G":5,"g1":-30,"g2":18},
{"m":"LINEAR","i":22,"S":11,"s1":-15,"s2":30,"G":-5,"g1":-25,"g2":25},
{"m":"LINEAR","i":23,"S":6,"s1":-36,"s2":8,"G":-13,"g1":-36,"g2":0},
{"m":"LINEAR","i":24,"S":-7,"s1":-25,"s2":-3,"G":-16,"g1":-24,"g2":-8},
{"m":"LINEAR","i":25,"S":-15,"s1":-20,"s2":-10,"G":-13,"g1":-17,"g2":-9},
{"m":"LINEAR","i":26,"S":-11,"s1":-16,"s2":-6,"G":-10,"g1":-14,"g2":-6},
{"m":"LINEAR","i":27,"S":-8,"s1":-13,"s2":-3,"G":-7,"g1":-11,"g2":-3},
{"m":"LINEAR","i":28,"S":-4,"s1":-9,"s2":1,"G":-4,"g1":-8,"g2":0},
{"m":"LINEAR","i":29,"S":-1,"s1":-6,"s2":4,"G":-1,"g1":-5,"g2":3},
{"m":"LINEAR","i":30,"S":2,"s1":-3,"s2":7,"G":2,"g1":-2,"g2":6},
{"m":"LINEAR","i":31,"S":6,"s1":-8,"s2":14,"G":5,"g1":-5,"g2":12},
{"m":"LINEAR","i":32,"S":9,"s1":-15,"s2":14,"G":8,"g1":-10,"g2":12},
{"m":"LINEAR","i":33,"S":7,"s1":-20,"s2":10,"G":1,"g1":-15,"g2":6},
{"m":"LINEAR","i":34,"S":0,"s1":-20,"s2":2,"G":-7,"g1":-15,"g2":0},
{"m":"LINEAR","i":35,"S":-8,"s1":-13,"s2":-3,"G":-11,"g1":-15,"g2":-7},
{"m":"LINEAR","i":36,"S":-11,"s1":-16,"s2":-6,"G":-14,"g1":-18,"g2":-10},
{"m":"LINEAR","i":37,"S":-14,"s1":-19,"s2":-9,"G":-12,"g1":-16,"g2":-8},
{"m":"LINEAR","i":38,"S":-13,"s1":-18,"s2":-8,"G":-9,"g1":-13,"g2":-5},
{"m":"LINEAR","i":39,"S":-9,"s1":-14,"s2":-4,"G":-5,"g1":-9,"g2":-1},
{"m":"LINEAR","i":40,"S":-5,"s1":-10,"s2":0,"G":-2,"g1":-6,"g2":2},
{"m":"GAUSSIAN","i":0,"S":-16,"s1":-22,"s2":-10,"G":-8,"g1":-13,"g2":-3,"sp":"9.82%","gp":"7.50%"},
{"m":"GAUSSIAN","i":1,"S":-10,"s1":-16,"s2":-4,"G":-4,"g1":-9,"g2":1},
{"m":"GAUSSIAN","i":2,"S":-3,"s1":-9,"s2":3,"G":1,"g1":-4,"g2":6},
{"m":"GAUSSIAN","i":3,"S":5,"s1":-1,"s2":11,"G":5,"g1":0,"g2":10},
{"m":"GAUSSIAN","i":4,"S":12,"s1":6,"s2":18,"G":9,"g1":4,"g2":14},
{"m":"GAUSSIAN","i":5,"S":18,"s1":12,"s2":24,"G":13,"g1":8,"g2":18},
{"m":"GAUSSIAN","i":6,"S":22,"s1":16,"s2":28,"G":15,"g1":10,"g2":20},
{"m":"GAUSSIAN","i":7,"S":25,"s1":19,"s2":31,"G":17,"g1":12,"g2":22},
{"m":"GAUSSIAN","i":8,"S":26,"s1":20,"s2":32,"G":17,"g1":12,"g2":22},
{"m":"GAUSSIAN","i":9,"S":26,"s1":20,"s2":32,"G":16,"g1":11,"g2":21},
{"m":"GAUSSIAN","i":10,"S":24,"s1":18,"s2":30,"G":13,"g1":8,"g2":18},
{"m":"GAUSSIAN","i":11,"S":19,"s1":13,"s2":25,"G":9,"g1":4,"g2":14},
{"m":"GAUSSIAN","i":12,"S":12,"s1":3,"s2":21,"G":4,"g1":-3,"g2":11},
{"m":"GAUSSIAN","i":13,"S":4,"s1":-5,"s2":13,"G":0,"g1":-7,"g2":7},
{"m":"GAUSSIAN","i":14,"S":-4,"s1":-13,"s2":5,"G":-3,"g1":-10,"g2":4},
{"m":"GAUSSIAN","i":15,"S":-11,"s1":-20,"s2":-2,"G":-6,"g1":-13,"g2":1},
{"m":"GAUSSIAN","i":16,"S":-16,"s1":-25,"s2":-7,"G":-9,"g1":-16,"g2":-2},
{"m":"GAUSSIAN","i":17,"S":-19,"s1":-25,"s2":-13,"G":-11,"g1":-16,"g2":-6},
{"m":"GAUSSIAN","i":18,"S":-21,"s1":-27,"s2":-15,"G":-13,"g1":-18,"g2":-8},
{"m":"GAUSSIAN","i":19,"S":-21,"s1":-27,"s2":-15,"G":-13,"g1":-18,"g2":-8},
{"m":"GAUSSIAN","i":20,"S":-19,"s1":-25,"s2":-13,"G":-12,"g1":-17,"g2":-7},
{"m":"GAUSSIAN","i":21,"S":-15,"s1":-21,"s2":-9,"G":-8,"g1":-13,"g2":-3},
{"m":"GAUSSIAN","i":22,"S":-9,"s1":-15,"s2":-3,"G":-2,"g1":-7,"g2":3},
{"m":"GAUSSIAN","i":23,"S":-2,"s1":-8,"s2":4,"G":5,"g1":0,"g2":10},
{"m":"GAUSSIAN","i":24,"S":5,"s1":-1,"s2":11,"G":11,"g1":6,"g2":16},
{"m":"GAUSSIAN","i":25,"S":11,"s1":5,"s2":17,"G":15,"g1":10,"g2":20},
{"m":"GAUSSIAN","i":26,"S":16,"s1":10,"s2":22,"G":15,"g1":10,"g2":20},
{"m":"GAUSSIAN","i":27,"S":19,"s1":13,"s2":25,"G":12,"g1":7,"g2":17},
{"m":"GAUSSIAN","i":28,"S":20,"s1":14,"s2":26,"G":7,"g1":2,"g2":12},
{"m":"GAUSSIAN","i":29,"S":19,"s1":13,"s2":25,"G":1,"g1":-4,"g2":6},
{"m":"GAUSSIAN","i":30,"S":14,"s1":8,"s2":20,"G":-5,"g1":-10,"g2":0},
{"m":"GAUSSIAN","i":31,"S":7,"s1":-2,"s2":16,"G":-10,"g1":-17,"g2":-3},
{"m":"GAUSSIAN","i":32,"S":-1,"s1":-10,"s2":8,"G":-15,"g1":-22,"g2":-8},
{"m":"GAUSSIAN","i":33,"S":-9,"s1":-18,"s2":0,"G":-19,"g1":-26,"g2":-12},
{"m":"GAUSSIAN","i":34,"S":-16,"s1":-25,"s2":-7,"G":-22,"g1":-29,"g2":-15},
{"m":"GAUSSIAN","i":35,"S":-21,"s1":-30,"s2":-12,"G":-24,"g1":-31,"g2":-17},
{"m":"GAUSSIAN","i":36,"S":-25,"s1":-34,"s2":-16,"G":-25,"g1":-32,"g2":-18},
{"m":"GAUSSIAN","i":37,"S":-27,"s1":-33,"s2":-21,"G":-25,"g1":-30,"g2":-20},
{"m":"GAUSSIAN","i":38,"S":-28,"s1":-34,"s2":-22,"G":-24,"g1":-29,"g2":-19},
{"m":"GAUSSIAN","i":39,"S":-28,"s1":-34,"s2":-22,"G":-22,"g1":-27,"g2":-17},
{"m":"GAUSSIAN","i":40,"S":-27,"s1":-33,"s2":-21,"G":-19,"g1":-24,"g2":-14},
{"m":"CUBIC","i":0,"S":-20,"s1":-24,"s2":-16,"G":-2,"g1":-10,"g2":6,"sp":"20.17%","gp":"3.85%"},
{"m":"CUBIC","i":1,"S":-13,"s1":-17,"s2":-9,"G":-5,"g1":-13,"g2":3},
{"m":"CUBIC","i":2,"S":-5,"s1":-9,"s2":-1,"G":-7,"g1":-15,"g2":1},
{"m":"CUBIC","i":3,"S":2,"s1":-2,"s2":6,"G":-7,"g1":-15,"g2":1},
{"m":"CUBIC","i":4,"S":10,"s1":6,"s2":14,"G":-7,"g1":-15,"g2":1},
{"m":"CUBIC","i":5,"S":17,"s1":13,"s2":21,"G":-5,"g1":-13,"g2":3},
{"m":"CUBIC","i":6,"S":25,"s1":21,"s2":29,"G":-4,"g1":-12,"g2":4},
{"m":"CUBIC","i":7,"S":32,"s1":28,"s2":36,"G":-2,"g1":-10,"g2":6},
{"m":"CUBIC","i":8,"S":39,"s1":35,"s2":43,"G":0,"g1":-8,"g2":8},
{"m":"CUBIC","i":9,"S":45,"s1":41,"s2":49,"G":2,"g1":-6,"g2":10},
{"m":"CUBIC","i":10,"S":51,"s1":47,"s2":55,"G":5,"g1":-3,"g2":13},
{"m":"CUBIC","i":11,"S":56,"s1":40,"s2":66,"G":7,"g1":-1,"g2":15},
{"m":"CUBIC","i":12,"S":57,"s1":25,"s2":66,"G":8,"g1":0,"g2":16},
{"m":"CUBIC","i":13,"S":51,"s1":-50,"s2":56,"G":10,"g1":2,"g2":18},
{"m":"CUBIC","i":14,"S":-38,"s1":-50,"s2":10,"G":9,"g1":1,"g2":17},
{"m":"CUBIC","i":15,"S":-42,"s1":-48,"s2":-36,"G":8,"g1":0,"g2":16},
{"m":"CUBIC","i":16,"S":-44,"s1":-48,"s2":-40,"G":6,"g1":-2,"g2":14},
{"m":"CUBIC","i":17,"S":-42,"s1":-46,"s2":-38,"G":5,"g1":-3,"g2":13},
{"m":"CUBIC","i":18,"S":-39,"s1":-43,"s2":-35,"G":2,"g1":-6,"g2":10},
{"m":"CUBIC","i":19,"S":-35,"s1":-39,"s2":-31,"G":-1,"g1":-9,"g2":7},
{"m":"CUBIC","i":20,"S":-31,"s1":-35,"s2":-27,"G":-3,"g1":-11,"g2":5},
{"m":"CUBIC","i":21,"S":-24,"s1":-28,"s2":-20,"G":-4,"g1":-12,"g2":4},
{"m":"CUBIC","i":22,"S":-17,"s1":-21,"s2":-13,"G":-4,"g1":-12,"g2":4},
{"m":"CUBIC","i":23,"S":-10,"s1":-14,"s2":-6,"G":-4,"g1":-12,"g2":4},
{"m":"CUBIC","i":24,"S":-4,"s1":-8,"s2":0,"G":-4,"g1":-12,"g2":4},
{"m":"CUBIC","i":25,"S":3,"s1":-1,"s2":7,"G":-4,"g1":-12,"g2":4},
{"m":"CUBIC","i":26,"S":10,"s1":6,"s2":14,"G":-4,"g1":-12,"g2":4},
{"m":"CUBIC","i":27,"S":17,"s1":13,"s2":21,"G":-4,"g1":-12,"g2":4},
{"m":"CUBIC","i":28,"S":24,"s1":20,"s2":28,"G":-4,"g1":-12,"g2":4},
{"m":"CUBIC","i":29,"S":30,"s1":26,"s2":34,"G":-5,"g1":-13,"g2":3},
{"m":"CUBIC","i":30,"S":36,"s1":32,"s2":40,"G":-4,"g1":-12,"g2":4},
{"m":"CUBIC","i":31,"S":39,"s1":35,"s2":43,"G":-4,"g1":-12,"g2":4},
{"m":"CUBIC","i":32,"S":37,"s1":20,"s2":55,"G":-3,"g1":-11,"g2":5},
{"m":"CUBIC","i":33,"S":33,"s1":-70,"s2":50,"G":-3,"g1":-11,"g2":5},
{"m":"CUBIC","i":34,"S":-42,"s1":-75,"s2":30,"G":-4,"g1":-12,"g2":4},
{"m":"CUBIC","i":35,"S":-58,"s1":-70,"s2":-45,"G":-5,"g1":-13,"g2":3},
{"m":"CUBIC","i":36,"S":-54,"s1":-58,"s2":-50,"G":-6,"g1":-14,"g2":2},
{"m":"CUBIC","i":37,"S":-50,"s1":-54,"s2":-46,"G":-7,"g1":-15,"g2":1},
{"m":"CUBIC","i":38,"S":-47,"s1":-51,"s2":-43,"G":-8,"g1":-16,"g2":0},
{"m":"CUBIC","i":39,"S":-43,"s1":-47,"s2":-39,"G":-9,"g1":-17,"g2":-1},
{"m":"CUBIC","i":40,"S":-39,"s1":-43,"s2":-35,"G":-10,"g1":-18,"g2":-2},
{"m":"PARABOLIC","i":0,"S":12,"s1":7,"s2":17,"G":-2,"g1":-6,"g2":2,"sp":"8.50%","gp":"4.18%"},
{"m":"PARABOLIC","i":1,"S":10,"s1":5,"s2":15,"G":2,"g1":-2,"g2":6},
{"m":"PARABOLIC","i":2,"S":7,"s1":2,"s2":12,"G":5,"g1":1,"g2":9},
{"m":"PARABOLIC","i":3,"S":3,"s1":-2,"s2":8,"G":8,"g1":4,"g2":12},
{"m":"PARABOLIC","i":4,"S":-1,"s1":-6,"s2":4,"G":9,"g1":5,"g2":13},
{"m":"PARABOLIC","i":5,"S":-5,"s1":-10,"s2":0,"G":10,"g1":6,"g2":14},
{"m":"PARABOLIC","i":6,"S":-9,"s1":-14,"s2":-4,"G":9,"g1":5,"g2":13},
{"m":"PARABOLIC","i":7,"S":-13,"s1":-18,"s2":-8,"G":7,"g1":3,"g2":11},
{"m":"PARABOLIC","i":8,"S":-16,"s1":-21,"s2":-11,"G":5,"g1":1,"g2":9},
{"m":"PARABOLIC","i":9,"S":-18,"s1":-23,"s2":-13,"G":2,"g1":-2,"g2":6},
{"m":"PARABOLIC","i":10,"S":-19,"s1":-24,"s2":-14,"G":0,"g1":-4,"g2":4},
{"m":"PARABOLIC","i":11,"S":-18,"s1":-23,"s2":-13,"G":-2,"g1":-6,"g2":2},
{"m":"PARABOLIC","i":12,"S":-16,"s1":-21,"s2":-11,"G":-4,"g1":-8,"g2":0},
{"m":"PARABOLIC","i":13,"S":-13,"s1":-18,"s2":-8,"G":-5,"g1":-9,"g2":-1},
{"m":"PARABOLIC","i":14,"S":-9,"s1":-14,"s2":-4,"G":-5,"g1":-9,"g2":-1},
{"m":"PARABOLIC","i":15,"S":-5,"s1":-10,"s2":0,"G":-4,"g1":-8,"g2":0},
{"m":"PARABOLIC","i":16,"S":-1,"s1":-6,"s2":4,"G":-3,"g1":-7,"g2":1},
{"m":"PARABOLIC","i":17,"S":4,"s1":-1,"s2":9,"G":-1,"g1":-5,"g2":3},
{"m":"PARABOLIC","i":18,"S":9,"s1":4,"s2":14,"G":2,"g1":-2,"g2":6},
{"m":"PARABOLIC","i":19,"S":14,"s1":9,"s2":19,"G":5,"g1":1,"g2":9},
{"m":"PARABOLIC","i":20,"S":18,"s1":13,"s2":23,"G":8,"g1":4,"g2":12},
{"m":"PARABOLIC","i":21,"S":21,"s1":16,"s2":26,"G":11,"g1":7,"g2":15},
{"m":"PARABOLIC","i":22,"S":24,"s1":19,"s2":29,"G":13,"g1":9,"g2":17},
{"m":"PARABOLIC","i":23,"S":25,"s1":20,"s2":30,"G":14,"g1":10,"g2":18},
{"m":"PARABOLIC","i":24,"S":26,"s1":21,"s2":31,"G":14,"g1":10,"g2":18},
{"m":"PARABOLIC","i":25,"S":25,"s1":20,"s2":30,"G":13,"g1":9,"g2":17},
{"m":"PARABOLIC","i":26,"S":23,"s1":18,"s2":28,"G":11,"g1":7,"g2":15},
{"m":"PARABOLIC","i":27,"S":19,"s1":14,"s2":24,"G":8,"g1":4,"g2":12},
{"m":"PARABOLIC","i":28,"S":14,"s1":9,"s2":19,"G":4,"g1":0,"g2":8},
{"m":"PARABOLIC","i":29,"S":9,"s1":4,"s2":14,"G":1,"g1":-3,"g2":5},
{"m":"PARABOLIC","i":30,"S":4,"s1":-1,"s2":9,"G":-2,"g1":-6,"g2":2},
{"m":"PARABOLIC","i":31,"S":0,"s1":-5,"s2":5,"G":-4,"g1":-8,"g2":0},
{"m":"PARABOLIC","i":32,"S":-4,"s1":-9,"s2":1,"G":-6,"g1":-10,"g2":-2},
{"m":"PARABOLIC","i":33,"S":-7,"s1":-12,"s2":-2,"G":-8,"g1":-12,"g2":-4},
{"m":"PARABOLIC","i":34,"S":-9,"s1":-35,"s2":20,"G":-8,"g1":-12,"g2":-4},
{"m":"PARABOLIC","i":35,"S":-11,"s1":-16,"s2":-6,"G":-9,"g1":-13,"g2":-5},
{"m":"PARABOLIC","i":36,"S":-10,"s1":-15,"s2":-5,"G":-9,"g1":-13,"g2":-5},
{"m":"PARABOLIC","i":37,"S":-9,"s1":-14,"s2":-4,"G":-9,"g1":-13,"g2":-5},
{"m":"PARABOLIC","i":38,"S":-8,"s1":-13,"s2":-3,"G":-9,"g1":-13,"g2":-5},
{"m":"PARABOLIC","i":39,"S":-7,"s1":-12,"s2":-2,"G":-9,"g1":-13,"g2":-5},
{"m":"PARABOLIC","i":40,"S":-6,"s1":-11,"s2":-1,"G":-9,"g1":-13,"g2":-5},
{"m":"BLAIS_RIOUX","i":0,"S":18,"s1":-52,"s2":44,"G":-2,"g1":-50,"g2":40,"sp":"10.93%","gp":"11.43%"},
{"m":"BLAIS_RIOUX","i":1,"S":19,"s1":-45,"s2":44,"G":-22,"g1":-40,"g2":40},
{"m":"BLAIS_RIOUX","i":2,"S":0,"s1":-56,"s2":44,"G":-38,"g1":-50,"g2":35},
{"m":"BLAIS_RIOUX","i":3,"S":-34,"s1":-56,"s2":18,"G":-30,"g1":-45,"g2":10},
{"m":"BLAIS_RIOUX","i":4,"S":-38,"s1":-41,"s2":-35,"G":-23,"g1":-26,"g2":-20},
{"m":"BLAIS_RIOUX","i":5,"S":-31,"s1":-34,"s2":-28,"G":-15,"g1":-18,"g2":-12},
{"m":"BLAIS_RIOUX","i":6,"S":-25,"s1":-28,"s2":-22,"G":-8,"g1":-11,"g2":-5},
{"m":"BLAIS_RIOUX","i":7,"S":-19,"s1":-22,"s2":-16,"G":-1,"g1":-4,"g2":2},
{"m":"BLAIS_RIOUX","i":8,"S":-12,"s1":-15,"s2":-9,"G":7,"g1":4,"g2":10},
{"m":"BLAIS_RIOUX","i":9,"S":-6,"s1":-9,"s2":-3,"G":14,"g1":11,"g2":17},
{"m":"BLAIS_RIOUX","i":10,"S":0,"s1":-3,"s2":3,"G":21,"g1":18,"g2":24},
{"m":"BLAIS_RIOUX","i":11,"S":7,"s1":4,"s2":10,"G":29,"g1":26,"g2":32},
{"m":"BLAIS_RIOUX","i":12,"S":13,"s1":-7,"s2":44,"G":20,"g1":-5,"g2":40},
{"m":"BLAIS_RIOUX","i":13,"S":14,"s1":-17,"s2":39,"G":10,"g1":-10,"g2":35},
{"m":"BLAIS_RIOUX","i":14,"S":-1,"s1":-17,"s2":31,"G":3,"g1":-10,"g2":25},
{"m":"BLAIS_RIOUX","i":15,"S":0,"s1":-3,"s2":3,"G":6,"g1":3,"g2":9},
{"m":"BLAIS_RIOUX","i":16,"S":3,"s1":0,"s2":6,"G":10,"g1":7,"g2":13},
{"m":"BLAIS_RIOUX","i":17,"S":6,"s1":3,"s2":9,"G":13,"g1":10,"g2":16},
{"m":"BLAIS_RIOUX","i":18,"S":10,"s1":7,"s2":13,"G":16,"g1":13,"g2":19},
{"m":"BLAIS_RIOUX","i":19,"S":13,"s1":10,"s2":16,"G":19,"g1":16,"g2":22},
{"m":"BLAIS_RIOUX","i":20,"S":16,"s1":13,"s2":19,"G":22,"g1":19,"g2":25},
{"m":"BLAIS_RIOUX","i":21,"S":19,"s1":-49,"s2":34,"G":13,"g1":-40,"g2":30},
{"m":"BLAIS_RIOUX","i":22,"S":22,"s1":-56,"s2":26,"G":-15,"g1":-50,"g2":22},
{"m":"BLAIS_RIOUX","i":23,"S":2,"s1":-56,"s2":5,"G":-29,"g1":-50,"g2":-5},
{"m":"BLAIS_RIOUX","i":24,"S":-22,"s1":-25,"s2":-19,"G":-22,"g1":-25,"g2":-19},
{"m":"BLAIS_RIOUX","i":25,"S":-34,"s1":-37,"s2":-31,"G":-16,"g1":-19,"g2":-13},
{"m":"BLAIS_RIOUX","i":26,"S":-27,"s1":-30,"s2":-24,"G":-11,"g1":-14,"g2":-8},
{"m":"BLAIS_RIOUX","i":27,"S":-20,"s1":-23,"s2":-17,"G":-5,"g1":-8,"g2":-2},
{"m":"BLAIS_RIOUX","i":28,"S":-12,"s1":-15,"s2":-9,"G":1,"g1":-2,"g2":4},
{"m":"BLAIS_RIOUX","i":29,"S":-5,"s1":-8,"s2":-2,"G":7,"g1":4,"g2":10},
{"m":"BLAIS_RIOUX","i":30,"S":2,"s1":-17,"s2":34,"G":13,"g1":-15,"g2":30},
{"m":"BLAIS_RIOUX","i":31,"S":10,"s1":-26,"s2":33,"G":7,"g1":-20,"g2":30},
{"m":"BLAIS_RIOUX","i":32,"S":17,"s1":-26,"s2":20,"G":-11,"g1":-26,"g2":10},
{"m":"BLAIS_RIOUX","i":33,"S":8,"s1":-20,"s2":10,"G":-12,"g1":-18,"g2":-5},
{"m":"BLAIS_RIOUX","i":34,"S":-2,"s1":-5,"s2":1,"G":-11,"g1":-14,"g2":-8},
{"m":"BLAIS_RIOUX","i":35,"S":-6,"s1":-9,"s2":-3,"G":-6,"g1":-9,"g2":-3},
{"m":"BLAIS_RIOUX","i":36,"S":-2,"s1":-5,"s2":1,"G":-2,"g1":-5,"g2":1},
{"m":"BLAIS_RIOUX","i":37,"S":2,"s1":-1,"s2":5,"G":2,"g1":-1,"g2":5},
{"m":"BLAIS_RIOUX","i":38,"S":6,"s1":3,"s2":9,"G":6,"g1":3,"g2":9},
{"m":"BLAIS_RIOUX","i":39,"S":10,"s1":7,"s2":13,"G":10,"g1":7,"g2":13},
{"m":"BLAIS_RIOUX","i":40,"S":14,"s1":11,"s2":17,"G":14,"g1":11,"g2":17},
{"m":"COM","i":0,"S":-5,"s1":-10,"s2":0,"G":-8,"g1":-12,"g2":-4,"sp":"6.84%","gp":"3.09%"},
{"m":"COM","i":1,"S":-4,"s1":-9,"s2":1,"G":-8,"g1":-12,"g2":-4},
{"m":"COM","i":2,"S":-3,"s1":-8,"s2":2,"G":-7,"g1":-11,"g2":-3},
{"m":"COM","i":3,"S":-2,"s1":-7,"s2":3,"G":-6,"g1":-10,"g2":-2},
{"m":"COM","i":4,"S":-1,"s1":-6,"s2":4,"G":-4,"g1":-8,"g2":0},
{"m":"COM","i":5,"S":0,"s1":-5,"s2":5,"G":-2,"g1":-6,"g2":2},
{"m":"COM","i":6,"S":1,"s1":-4,"s2":6,"G":0,"g1":-4,"g2":4},
{"m":"COM","i":7,"S":2,"s1":-3,"s2":7,"G":2,"g1":-2,"g2":6},
{"m":"COM","i":8,"S":3,"s1":-2,"s2":8,"G":4,"g1":0,"g2":8},
{"m":"COM","i":9,"S":5,"s1":0,"s2":10,"G":6,"g1":2,"g2":10},
{"m":"COM","i":10,"S":7,"s1":2,"s2":12,"G":8,"g1":4,"g2":12},
{"m":"COM","i":11,"S":9,"s1":4,"s2":14,"G":9,"g1":5,"g2":13},
{"m":"COM","i":12,"S":11,"s1":6,"s2":16,"G":10,"g1":6,"g2":14},
{"m":"COM","i":13,"S":13,"s1":8,"s2":18,"G":10,"g1":6,"g2":14},
{"m":"COM","i":14,"S":15,"s1":10,"s2":20,"G":9,"g1":5,"g2":13},
{"m":"COM","i":15,"S":17,"s1":12,"s2":22,"G":7,"g1":3,"g2":11},
{"m":"COM","i":16,"S":18,"s1":13,"s2":23,"G":5,"g1":1,"g2":9},
{"m":"COM","i":17,"S":19,"s1":14,"s2":24,"G":2,"g1":-2,"g2":6},
{"m":"COM","i":18,"S":19,"s1":14,"s2":24,"G":0,"g1":-4,"g2":4},
{"m":"COM","i":19,"S":18,"s1":13,"s2":23,"G":-3,"g1":-7,"g2":1},
{"m":"COM","i":20,"S":16,"s1":11,"s2":21,"G":-6,"g1":-10,"g2":-2},
{"m":"COM","i":21,"S":13,"s1":8,"s2":18,"G":-9,"g1":-13,"g2":-5},
{"m":"COM","i":22,"S":9,"s1":4,"s2":14,"G":-11,"g1":-15,"g2":-7},
{"m":"COM","i":23,"S":5,"s1":0,"s2":10,"G":-13,"g1":-17,"g2":-9},
{"m":"COM","i":24,"S":1,"s1":-4,"s2":6,"G":-14,"g1":-18,"g2":-10},
{"m":"COM","i":25,"S":-3,"s1":-8,"s2":2,"G":-14,"g1":-18,"g2":-10},
{"m":"COM","i":26,"S":-6,"s1":-11,"s2":-1,"G":-13,"g1":-17,"g2":-9},
{"m":"COM","i":27,"S":-8,"s1":-13,"s2":-3,"G":-11,"g1":-15,"g2":-7},
{"m":"COM","i":28,"S":-9,"s1":-14,"s2":-4,"G":-9,"g1":-13,"g2":-5},
{"m":"COM","i":29,"S":-9,"s1":-14,"s2":-4,"G":-7,"g1":-11,"g2":-3},
{"m":"COM","i":30,"S":-8,"s1":-13,"s2":-3,"G":-5,"g1":-9,"g2":-1},
{"m":"COM","i":31,"S":-6,"s1":-11,"s2":-1,"G":-3,"g1":-7,"g2":1},
{"m":"COM","i":32,"S":-3,"s1":-8,"s2":2,"G":-2,"g1":-6,"g2":2},
{"m":"COM","i":33,"S":1,"s1":-4,"s2":6,"G":-1,"g1":-5,"g2":3},
{"m":"COM","i":34,"S":5,"s1":0,"s2":10,"G":0,"g1":-4,"g2":4},
{"m":"COM","i":35,"S":9,"s1":4,"s2":14,"G":1,"g1":-3,"g2":5},
{"m":"COM","i":36,"S":12,"s1":7,"s2":17,"G":2,"g1":-2,"g2":6},
{"m":"COM","i":37,"S":15,"s1":10,"s2":20,"G":2,"g1":-2,"g2":6},
{"m":"COM","i":38,"S":17,"s1":12,"s2":22,"G":2,"g1":-2,"g2":6},
{"m":"COM","i":39,"S":18,"s1":13,"s2":23,"G":2,"g1":-2,"g2":6},
{"m":"COM","i":40,"S":19,"s1":14,"s2":24,"G":2,"g1":-2,"g2":6},
{"m":"mTOUCH","i":0,"S":3,"s1":-2,"s2":8,"G":-6,"g1":-10,"g2":-2,"sp":"4.56%","gp":"3.19%"},
{"m":"mTOUCH","i":1,"S":-2,"s1":-7,"s2":3,"G":-5,"g1":-9,"g2":-1},
{"m":"mTOUCH","i":2,"S":-3,"s1":-8,"s2":2,"G":-4,"g1":-8,"g2":0},
{"m":"mTOUCH","i":3,"S":-3,"s1":-8,"s2":2,"G":-3,"g1":-7,"g2":1},
{"m":"mTOUCH","i":4,"S":-5,"s1":-10,"s2":0,"G":-2,"g1":-6,"g2":2},
{"m":"mTOUCH","i":5,"S":-7,"s1":-12,"s2":-2,"G":-1,"g1":-5,"g2":3},
{"m":"mTOUCH","i":6,"S":-9,"s1":-14,"s2":-4,"G":0,"g1":-4,"g2":4},
{"m":"mTOUCH","i":7,"S":-10,"s1":-15,"s2":-5,"G":1,"g1":-3,"g2":5},
{"m":"mTOUCH","i":8,"S":-10,"s1":-15,"s2":-5,"G":1,"g1":-3,"g2":5},
{"m":"mTOUCH","i":9,"S":-9,"s1":-14,"s2":-4,"G":2,"g1":-2,"g2":6},
{"m":"mTOUCH","i":10,"S":-7,"s1":-12,"s2":-2,"G":2,"g1":-2,"g2":6},
{"m":"mTOUCH","i":11,"S":-5,"s1":-10,"s2":0,"G":3,"g1":-1,"g2":7},
{"m":"mTOUCH","i":12,"S":-2,"s1":-7,"s2":3,"G":4,"g1":0,"g2":8},
{"m":"mTOUCH","i":13,"S":1,"s1":-4,"s2":6,"G":5,"g1":1,"g2":9},
{"m":"mTOUCH","i":14,"S":4,"s1":-1,"s2":9,"G":6,"g1":2,"g2":10},
{"m":"mTOUCH","i":15,"S":7,"s1":2,"s2":12,"G":7,"g1":3,"g2":11},
{"m":"mTOUCH","i":16,"S":10,"s1":5,"s2":15,"G":7,"g1":3,"g2":11},
{"m":"mTOUCH","i":17,"S":12,"s1":7,"s2":17,"G":7,"g1":3,"g2":11},
{"m":"mTOUCH","i":18,"S":14,"s1":9,"s2":19,"G":6,"g1":2,"g2":10},
{"m":"mTOUCH","i":19,"S":14,"s1":9,"s2":19,"G":4,"g1":0,"g2":8},
{"m":"mTOUCH","i":20,"S":13,"s1":8,"s2":18,"G":1,"g1":-3,"g2":5},
{"m":"mTOUCH","i":21,"S":10,"s1":5,"s2":15,"G":-2,"g1":-6,"g2":2},
{"m":"mTOUCH","i":22,"S":6,"s1":1,"s2":11,"G":-3,"g1":-7,"g2":1},
{"m":"mTOUCH","i":23,"S":1,"s1":-4,"s2":6,"G":1,"g1":-3,"g2":5},
{"m":"mTOUCH","i":24,"S":-3,"s1":-8,"s2":2,"G":4,"g1":0,"g2":8},
{"m":"mTOUCH","i":25,"S":-6,"s1":-11,"s2":-1,"G":5,"g1":1,"g2":9},
{"m":"mTOUCH","i":26,"S":-9,"s1":-14,"s2":-4,"G":4,"g1":0,"g2":8},
{"m":"mTOUCH","i":27,"S":-11,"s1":-16,"s2":-6,"G":3,"g1":-1,"g2":7},
{"m":"mTOUCH","i":28,"S":-12,"s1":-17,"s2":-7,"G":0,"g1":-4,"g2":4},
{"m":"mTOUCH","i":29,"S":-13,"s1":-18,"s2":-8,"G":-4,"g1":-8,"g2":0},
{"m":"mTOUCH","i":30,"S":-13,"s1":-18,"s2":-8,"G":-8,"g1":-12,"g2":-4},
{"m":"mTOUCH","i":31,"S":-12,"s1":-17,"s2":-7,"G":-10,"g1":-14,"g2":-6},
{"m":"mTOUCH","i":32,"S":-10,"s1":-15,"s2":-5,"G":-10,"g1":-14,"g2":-6},
{"m":"mTOUCH","i":33,"S":-7,"s1":-12,"s2":-2,"G":-9,"g1":-13,"g2":-5},
{"m":"mTOUCH","i":34,"S":-4,"s1":-9,"s2":1,"G":-9,"g1":-13,"g2":-5},
{"m":"mTOUCH","i":35,"S":-1,"s1":-6,"s2":4,"G":-8,"g1":-12,"g2":-4},
{"m":"mTOUCH","i":36,"S":2,"s1":-3,"s2":7,"G":-8,"g1":-12,"g2":-4},
{"m":"mTOUCH","i":37,"S":5,"s1":0,"s2":10,"G":-7,"g1":-11,"g2":-3},
{"m":"mTOUCH","i":38,"S":8,"s1":3,"s2":13,"G":-6,"g1":-10,"g2":-2},
{"m":"mTOUCH","i":39,"S":10,"s1":5,"s2":15,"G":-5,"g1":-9,"g2":-1},
{"m":"mTOUCH","i":40,"S":11,"s1":6,"s2":16,"G":-4,"g1":-8,"g2":0}
]
},
"hconcat":[
{
"data":{"name":"L"},
"title":{"text":"Digit Width: 100% Digit Length: 0% Touch Size: 150%","subtitle":"(Percentage refers to Mean of Absolute Errors for Strong and Gentle pressure)","anchor":"start","frame":"group","dx":11,"offset":-4,"fontSize":9.3,"subtitleFontSize":9.3,"subtitlePadding":4,"fontWeight":"normal","font":"Liberation Sans","subtitleFont":"Liberation Sans","color":"#6b6b6b","subtitleColor":"#9a9a9a"},
"facet":{"row":{"field":"m","type":"nominal","sort":["LINEAR","GAUSSIAN","CUBIC","PARABOLIC","BLAIS_RIOUX","COM","mTOUCH"],"header":null}},
"spacing":0,
"bounds":"flush",
"spec":{"width":350,"height":77.75,"layer":[
{"transform":[{"filter":"datum.i==0"}],"mark":{"type":"rule","color":"#e2e2e2","strokeWidth":1},"encoding":{"x":{"datum":-2.1,"type":"quantitative","axis":null},"x2":{"datum":40.45},"y":{"datum":0,"type":"quantitative","axis":null}}},
{"mark":{"type":"rule","strokeWidth":6.2,"strokeCap":"butt","opacity":0.3},"encoding":{"x":{"field":"i","type":"quantitative","scale":{"domain":[-7.218,40.45],"nice":false,"zero":false},"axis":null},"y":{"field":"g1","type":"quantitative","scale":{"domain":[-38.875,38.875],"nice":false,"zero":false},"axis":null},"y2":{"field":"g2"},"stroke":{"field":"m","type":"nominal","scale":{"domain":["LINEAR","GAUSSIAN","CUBIC","PARABOLIC","BLAIS_RIOUX","COM","mTOUCH"],"range":["#3fd6e6","#3ed9c6","#5cd9a2","#74d58a","#98da6a","#c4da4a","#dada2c"]},"legend":null}}},
{"mark":{"type":"rule","strokeWidth":6.2,"strokeCap":"butt","opacity":0.3},"encoding":{"x":{"field":"i","type":"quantitative","scale":{"domain":[-7.218,40.45],"nice":false,"zero":false},"axis":null},"y":{"field":"s1","type":"quantitative","scale":{"domain":[-38.875,38.875],"nice":false,"zero":false},"axis":null},"y2":{"field":"s2"},"color":{"field":"m","type":"nominal","scale":{"domain":["LINEAR","GAUSSIAN","CUBIC","PARABOLIC","BLAIS_RIOUX","COM","mTOUCH"],"range":["#27aed6","#2cb3b8","#3aa57e","#4ba566","#6fb24a","#a0b22a","#bdb412"]},"legend":null}}},
{"mark":{"type":"line","strokeWidth":1.5},"encoding":{"x":{"field":"i","type":"quantitative","scale":{"domain":[-7.218,40.45],"nice":false,"zero":false},"axis":null},"y":{"field":"G","type":"quantitative","scale":{"domain":[-38.875,38.875],"nice":false,"zero":false},"axis":null},"stroke":{"field":"m","type":"nominal","scale":{"domain":["LINEAR","GAUSSIAN","CUBIC","PARABOLIC","BLAIS_RIOUX","COM","mTOUCH"],"range":["#3fd6e6","#3ed9c6","#5cd9a2","#74d58a","#98da6a","#c4da4a","#dada2c"]},"legend":null}}},
{"mark":{"type":"circle","size":9,"opacity":1},"encoding":{"x":{"field":"i","type":"quantitative","scale":{"domain":[-7.218,40.45],"nice":false,"zero":false},"axis":null},"y":{"field":"G","type":"quantitative","scale":{"domain":[-38.875,38.875],"nice":false,"zero":false},"axis":null},"fill":{"field":"m","type":"nominal","scale":{"domain":["LINEAR","GAUSSIAN","CUBIC","PARABOLIC","BLAIS_RIOUX","COM","mTOUCH"],"range":["#3fd6e6","#3ed9c6","#5cd9a2","#74d58a","#98da6a","#c4da4a","#dada2c"]},"legend":null}}},
{"mark":{"type":"line","strokeWidth":1.5},"encoding":{"x":{"field":"i","type":"quantitative","scale":{"domain":[-7.218,40.45],"nice":false,"zero":false},"axis":null},"y":{"field":"S","type":"quantitative","scale":{"domain":[-38.875,38.875],"nice":false,"zero":false},"axis":null},"color":{"field":"m","type":"nominal","scale":{"domain":["LINEAR","GAUSSIAN","CUBIC","PARABOLIC","BLAIS_RIOUX","COM","mTOUCH"],"range":["#27aed6","#2cb3b8","#3aa57e","#4ba566","#6fb24a","#a0b22a","#bdb412"]},"legend":null}}},
{"mark":{"type":"circle","size":9,"opacity":1},"encoding":{"x":{"field":"i","type":"quantitative","scale":{"domain":[-7.218,40.45],"nice":false,"zero":false},"axis":null},"y":{"field":"S","type":"quantitative","scale":{"domain":[-38.875,38.875],"nice":false,"zero":false},"axis":null},"color":{"field":"m","type":"nominal","scale":{"domain":["LINEAR","GAUSSIAN","CUBIC","PARABOLIC","BLAIS_RIOUX","COM","mTOUCH"],"range":["#27aed6","#2cb3b8","#3aa57e","#4ba566","#6fb24a","#a0b22a","#bdb412"]},"legend":null}}},
{"transform":[{"filter":"datum.i==0"}],"mark":{"type":"text","align":"left","baseline":"middle","fontSize":9.3,"font":"Liberation Sans","color":"#8c8c8c"},"encoding":{"x":{"datum":-5.7,"type":"quantitative","axis":null},"y":{"datum":23,"type":"quantitative","axis":null},"text":{"field":"m"}}},
{"transform":[{"filter":"datum.i==0"}],"mark":{"type":"text","align":"left","baseline":"middle","fontSize":9.3,"font":"Liberation Sans"},"encoding":{"x":{"datum":-5.7,"type":"quantitative","axis":null},"y":{"datum":12.4,"type":"quantitative","axis":null},"text":{"value":"Strong:"},"color":{"field":"m","type":"nominal","legend":null}}},
{"transform":[{"filter":"datum.i==0"}],"mark":{"type":"text","align":"left","baseline":"middle","fontSize":9.3,"font":"Liberation Sans"},"encoding":{"x":{"datum":-5.7,"type":"quantitative","axis":null},"y":{"datum":2.1,"type":"quantitative","axis":null},"text":{"field":"sp"},"color":{"field":"m","type":"nominal","legend":null}}},
{"transform":[{"filter":"datum.i==0"}],"mark":{"type":"text","align":"left","baseline":"middle","fontSize":9.3,"font":"Liberation Sans"},"encoding":{"x":{"datum":-5.7,"type":"quantitative","axis":null},"y":{"datum":-8.8,"type":"quantitative","axis":null},"text":{"value":"Gentle:"},"fill":{"field":"m","type":"nominal","legend":null}}},
{"transform":[{"filter":"datum.i==0"}],"mark":{"type":"text","align":"left","baseline":"middle","fontSize":9.3,"font":"Liberation Sans"},"encoding":{"x":{"datum":-5.7,"type":"quantitative","axis":null},"y":{"datum":-19.1,"type":"quantitative","axis":null},"text":{"field":"gp"},"fill":{"field":"m","type":"nominal","legend":null}}}
]}
},
{
"data":{"name":"R"},
"title":{"text":"Digit Width: 35% Digit Length: 100% Touch Size: 150%","subtitle":"(Percentage refers to Mean of Absolute Errors for Strong and Gentle pressure)","anchor":"start","frame":"group","dx":11,"offset":-4,"fontSize":9.3,"subtitleFontSize":9.3,"subtitlePadding":4,"fontWeight":"normal","font":"Liberation Sans","subtitleFont":"Liberation Sans","color":"#6b6b6b","subtitleColor":"#9a9a9a"},
"facet":{"row":{"field":"m","type":"nominal","sort":["LINEAR","GAUSSIAN","CUBIC","PARABOLIC","BLAIS_RIOUX","COM","mTOUCH"],"header":null}},
"spacing":0,
"bounds":"flush",
"spec":{"width":347,"height":77.75,"layer":[
{"transform":[{"filter":"datum.i==0"}],"mark":{"type":"rule","color":"#e2e2e2","strokeWidth":1},"encoding":{"x":{"datum":-2.1,"type":"quantitative","axis":null},"x2":{"datum":40.44},"y":{"datum":0,"type":"quantitative","axis":null}}},
{"mark":{"type":"rule","strokeWidth":6.1,"strokeCap":"butt","opacity":0.3},"encoding":{"x":{"field":"i","type":"quantitative","scale":{"domain":[-7.29,40.44],"nice":false,"zero":false},"axis":null},"y":{"field":"g1","type":"quantitative","scale":{"domain":[-38.875,38.875],"nice":false,"zero":false},"axis":null},"y2":{"field":"g2"},"stroke":{"field":"m","type":"nominal","scale":{"domain":["LINEAR","GAUSSIAN","CUBIC","PARABOLIC","BLAIS_RIOUX","COM","mTOUCH"],"range":["#3fd6e6","#3ed9c6","#5cd9a2","#74d58a","#98da6a","#c4da4a","#dada2c"]},"legend":null}}},
{"mark":{"type":"rule","strokeWidth":6.1,"strokeCap":"butt","opacity":0.3},"encoding":{"x":{"field":"i","type":"quantitative","scale":{"domain":[-7.29,40.44],"nice":false,"zero":false},"axis":null},"y":{"field":"s1","type":"quantitative","scale":{"domain":[-38.875,38.875],"nice":false,"zero":false},"axis":null},"y2":{"field":"s2"},"color":{"field":"m","type":"nominal","scale":{"domain":["LINEAR","GAUSSIAN","CUBIC","PARABOLIC","BLAIS_RIOUX","COM","mTOUCH"],"range":["#27aed6","#2cb3b8","#3aa57e","#4ba566","#6fb24a","#a0b22a","#bdb412"]},"legend":null}}},
{"mark":{"type":"line","strokeWidth":1.5},"encoding":{"x":{"field":"i","type":"quantitative","scale":{"domain":[-7.29,40.44],"nice":false,"zero":false},"axis":null},"y":{"field":"G","type":"quantitative","scale":{"domain":[-38.875,38.875],"nice":false,"zero":false},"axis":null},"stroke":{"field":"m","type":"nominal","scale":{"domain":["LINEAR","GAUSSIAN","CUBIC","PARABOLIC","BLAIS_RIOUX","COM","mTOUCH"],"range":["#3fd6e6","#3ed9c6","#5cd9a2","#74d58a","#98da6a","#c4da4a","#dada2c"]},"legend":null}}},
{"mark":{"type":"circle","size":9,"opacity":1},"encoding":{"x":{"field":"i","type":"quantitative","scale":{"domain":[-7.29,40.44],"nice":false,"zero":false},"axis":null},"y":{"field":"G","type":"quantitative","scale":{"domain":[-38.875,38.875],"nice":false,"zero":false},"axis":null},"fill":{"field":"m","type":"nominal","scale":{"domain":["LINEAR","GAUSSIAN","CUBIC","PARABOLIC","BLAIS_RIOUX","COM","mTOUCH"],"range":["#3fd6e6","#3ed9c6","#5cd9a2","#74d58a","#98da6a","#c4da4a","#dada2c"]},"legend":null}}},
{"mark":{"type":"line","strokeWidth":1.5},"encoding":{"x":{"field":"i","type":"quantitative","scale":{"domain":[-7.29,40.44],"nice":false,"zero":false},"axis":null},"y":{"field":"S","type":"quantitative","scale":{"domain":[-38.875,38.875],"nice":false,"zero":false},"axis":null},"color":{"field":"m","type":"nominal","scale":{"domain":["LINEAR","GAUSSIAN","CUBIC","PARABOLIC","BLAIS_RIOUX","COM","mTOUCH"],"range":["#27aed6","#2cb3b8","#3aa57e","#4ba566","#6fb24a","#a0b22a","#bdb412"]},"legend":null}}},
{"mark":{"type":"circle","size":9,"opacity":1},"encoding":{"x":{"field":"i","type":"quantitative","scale":{"domain":[-7.29,40.44],"nice":false,"zero":false},"axis":null},"y":{"field":"S","type":"quantitative","scale":{"domain":[-38.875,38.875],"nice":false,"zero":false},"axis":null},"color":{"field":"m","type":"nominal","scale":{"domain":["LINEAR","GAUSSIAN","CUBIC","PARABOLIC","BLAIS_RIOUX","COM","mTOUCH"],"range":["#27aed6","#2cb3b8","#3aa57e","#4ba566","#6fb24a","#a0b22a","#bdb412"]},"legend":null}}},
{"transform":[{"filter":"datum.i==0"}],"mark":{"type":"text","align":"left","baseline":"middle","fontSize":9.3,"font":"Liberation Sans","color":"#8c8c8c"},"encoding":{"x":{"datum":-5.7,"type":"quantitative","axis":null},"y":{"datum":23,"type":"quantitative","axis":null},"text":{"field":"m"}}},
{"transform":[{"filter":"datum.i==0"}],"mark":{"type":"text","align":"left","baseline":"middle","fontSize":9.3,"font":"Liberation Sans"},"encoding":{"x":{"datum":-5.7,"type":"quantitative","axis":null},"y":{"datum":12.4,"type":"quantitative","axis":null},"text":{"value":"Strong:"},"color":{"field":"m","type":"nominal","legend":null}}},
{"transform":[{"filter":"datum.i==0"}],"mark":{"type":"text","align":"left","baseline":"middle","fontSize":9.3,"font":"Liberation Sans"},"encoding":{"x":{"datum":-5.7,"type":"quantitative","axis":null},"y":{"datum":2.1,"type":"quantitative","axis":null},"text":{"field":"sp"},"color":{"field":"m","type":"nominal","legend":null}}},
{"transform":[{"filter":"datum.i==0"}],"mark":{"type":"text","align":"left","baseline":"middle","fontSize":9.3,"font":"Liberation Sans"},"encoding":{"x":{"datum":-5.7,"type":"quantitative","axis":null},"y":{"datum":-8.8,"type":"quantitative","axis":null},"text":{"value":"Gentle:"},"fill":{"field":"m","type":"nominal","legend":null}}},
{"transform":[{"filter":"datum.i==0"}],"mark":{"type":"text","align":"left","baseline":"middle","fontSize":9.3,"font":"Liberation Sans"},"encoding":{"x":{"datum":-5.7,"type":"quantitative","axis":null},"y":{"datum":-19.1,"type":"quantitative","axis":null},"text":{"field":"gp"},"fill":{"field":"m","type":"nominal","legend":null}}}
]}
}
]
}
